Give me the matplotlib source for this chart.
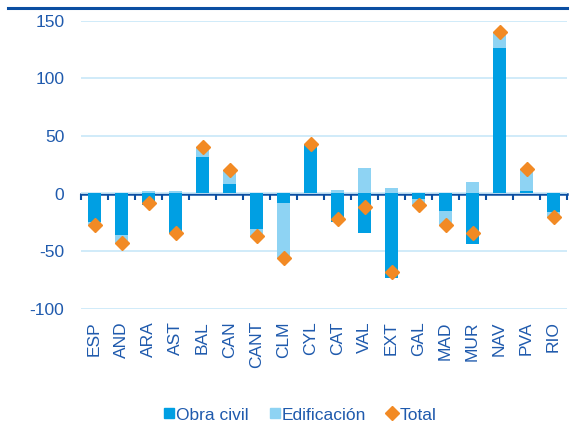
import matplotlib
matplotlib.use("Agg")
import matplotlib.pyplot as plt
import numpy as np
from matplotlib.lines import Line2D

regions = ["ESP", "AND", "ARA", "AST", "BAL", "CAN", "CANT", "CLM", "CYL",
           "CAT", "VAL", "EXT", "GAL", "MAD", "MUR", "NAV", "PVA", "RIO"]
obra_civil = [-25, -36, -10, -35, 32, 8, -31, -8, 42,
              -25, -34, -73, -5, -15, -44, 126, 2, -16]
edificacion = [-2, -8, 2, 2, 8, 12, -6, -48, 1,
               3, 22, 5, -5, -12, 10, 14, 19, -4]
total = [-27, -43, -8, -34, 40, 20, -37, -56, 43,
         -22, -12, -68, -10, -27, -34, 140, 21, -20]
yticks = [-100, -50, 0, 50, 100, 150]

plt.rcParams['font.family'] = ['Liberation Sans', 'DejaVu Sans']
plt.rcParams['axes.unicode_minus'] = False
TXT = "#1F5AAD"
C_OBRA = "#009FE3"
C_EDIF = "#8ED3F3"
C_TOT = "#F28A24"
DARK = "#0B4EA2"

fig = plt.figure(figsize=(5.77, 4.23), dpi=100)
ax = fig.add_axes([81/577, 1-308.7/423, (567-81)/577, (308.7-20.7)/423])

x = np.arange(len(regions))
oc = np.array(obra_civil, float)
ed = np.array(edificacion, float)
# Excel-style stacking: positives and negatives stacked separately
pos_base = np.where(oc > 0, oc, 0)
neg_base = np.where(oc < 0, oc, 0)
ed_bottom = np.where(ed >= 0, pos_base, neg_base)

w = 0.47
ax.bar(x, oc, width=w, color=C_OBRA, zorder=2)
ax.bar(x, ed, width=w, bottom=ed_bottom, color=C_EDIF, zorder=2)
ax.plot(x, total, linestyle='none', marker='D', ms=7.5, color=C_TOT, zorder=4)

ax.set_ylim(-100, 150)
ax.set_xlim(-0.5, len(regions) - 0.5)
ax.set_yticks(yticks)
ax.yaxis.grid(True, color="#C8E8F8", lw=1.2, zorder=0)
ax.set_axisbelow(True)
for s in ax.spines.values():
    s.set_visible(False)
ax.tick_params(axis='y', length=0, pad=12, labelsize=12.5, labelcolor=TXT)
ax.set_xticks(x)
ax.set_xticklabels(regions, rotation=90)
ax.tick_params(axis='x', length=0, pad=9, labelsize=12.5, labelcolor=TXT)

# zero axis with boundary ticks
sec = ax.secondary_xaxis(100/250)
sec.set_xticks(np.arange(-0.5, len(regions), 1.0))
sec.set_xticklabels([])
sec.tick_params(axis='x', direction='out', length=4, width=1.5, color=DARK)
sec.spines['bottom'].set_color(DARK)
sec.spines['bottom'].set_linewidth(1.8)
sec.spines['bottom'].set_zorder(5)

# top rule
fig.add_artist(Line2D([8/577, 567/577], [1-8.5/423, 1-8.5/423],
                      transform=fig.transFigure, color=DARK, lw=2.2))

handles = [
    Line2D([], [], linestyle='none', marker='s', ms=7.5, color=C_OBRA),
    Line2D([], [], linestyle='none', marker='s', ms=7.5, color=C_EDIF),
    Line2D([], [], linestyle='none', marker='D', ms=7, color=C_TOT),
]
leg = fig.legend(handles, ["Obra civil", "Edificación", "Total"],
                 loc='center', bbox_to_anchor=(0.52, 1-415/423), ncol=3,
                 frameon=False, fontsize=12.5, handlelength=0.6,
                 handletextpad=0.1, columnspacing=1.2)
for t in leg.get_texts():
    t.set_color(TXT)

fig.savefig("out.png", dpi=100)
